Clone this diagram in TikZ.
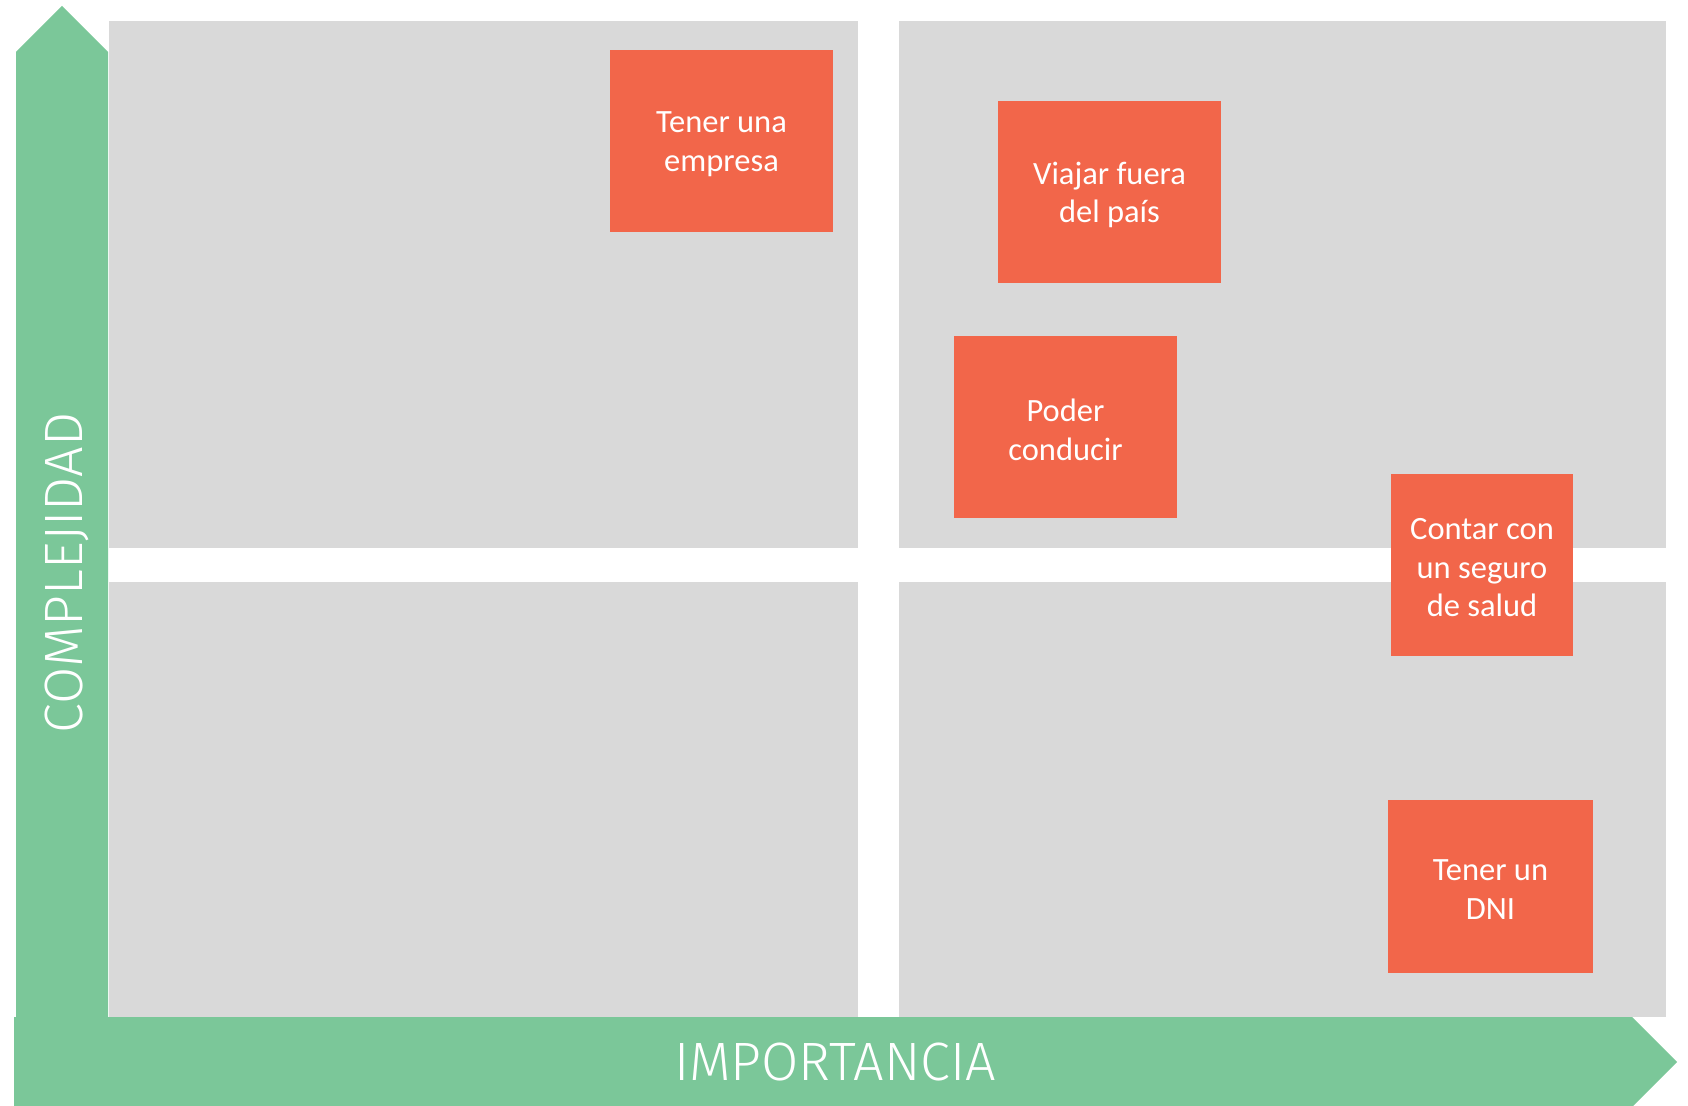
\documentclass[tikz,border=0pt]{standalone}
\usepackage{fontspec}
\setmainfont{Carlito}
\newfontfamily\axisfont{Fira Sans Light}
\definecolor{axisgreen}{HTML}{7BC799}
\definecolor{panelgrey}{HTML}{D9D9D9}
\definecolor{cardorange}{HTML}{F2664A}
\begin{document}
\begin{tikzpicture}[x=1pt,y=-1pt,
  panel/.style={fill=panelgrey,draw=none},
  axisshape/.style={fill=axisgreen,draw=none},
  card/.style={fill=cardorange,draw=none,inner sep=0pt},
  cardtext/.style={text=white,align=center,inner sep=0pt,yshift=-3pt,
    font=\fontsize{32.5}{38.5}\selectfont},
  axislabel/.style={text=white,inner sep=0pt,font=\axisfont\fontsize{54}{60}\selectfont}]
\useasboundingbox (0,0) rectangle (1688,1105);
% panels
\fill[panel] (109,21) rectangle (858,548);
\fill[panel] (899,21) rectangle (1666,548);
\fill[panel] (109,582) rectangle (858,1017);
\fill[panel] (899,582) rectangle (1666,1017);
% axes
\fill[axisshape] (16,1017) -- (16,52) -- (62,6) -- (108,52) -- (108,1017) -- cycle;
\fill[axisshape] (14,1017) -- (1632,1017) -- (1677,1062) -- (1632,1107) -- (14,1107) -- cycle;
\node[axislabel,anchor=base] (imp) at (835,1080) {IMPORTANCIA};
\node[axislabel,anchor=base,rotate=90] (comp) at (82,573) {COMPLEJIDAD};
% cards
\node[card,minimum width=223,minimum height=182,label={[cardtext]center:Tener una\\empresa}] (c1) at (721.5,141) {};
\node[card,minimum width=223,minimum height=182,label={[cardtext]center:Viajar fuera\\del país}] (c2) at (1109.5,192) {};
\node[card,minimum width=223,minimum height=182,label={[cardtext]center:Poder\\conducir}] (c3) at (1065.5,427) {};
\node[card,minimum width=182,minimum height=182,label={[cardtext]center:Contar con\\un seguro\\de salud}] (c4) at (1482,565) {};
\node[card,minimum width=205,minimum height=173,label={[cardtext]center:Tener un\\DNI}] (c5) at (1490.5,886.5) {};
\end{tikzpicture}
\end{document}
